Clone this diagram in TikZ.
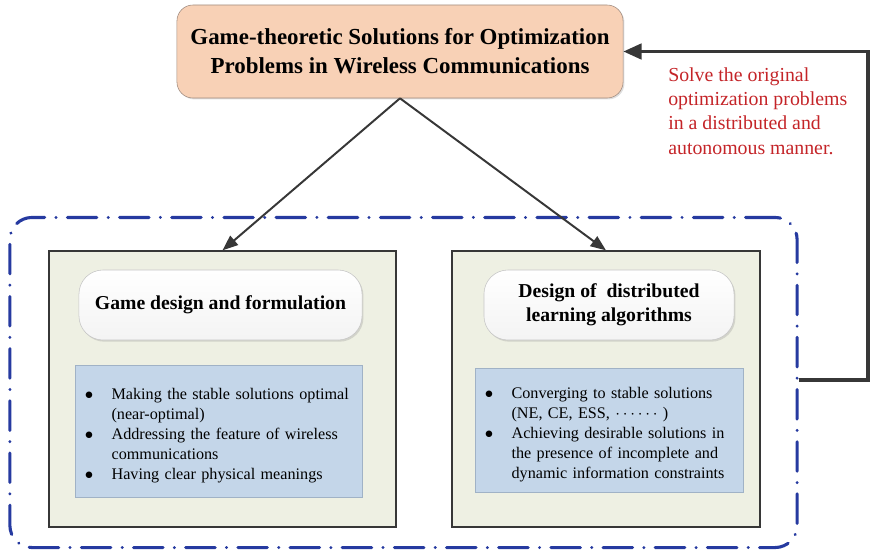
\documentclass[tikz,border=0pt]{standalone}
\usepackage{fontspec}
\setmainfont{Liberation Serif}
\usetikzlibrary{arrows.meta,shadows}

\definecolor{peach}{RGB}{248,209,182}
\definecolor{peachline}{RGB}{160,140,128}
\definecolor{sage}{RGB}{238,240,227}
\definecolor{listblue}{RGB}{196,214,233}
\definecolor{listline}{RGB}{160,178,198}
\definecolor{frameblue}{RGB}{38,58,160}
\definecolor{notered}{RGB}{196,36,40}
\definecolor{darkline}{RGB}{55,55,55}

\newcommand{\bitem}[1]{\par\noindent\llap{\makebox[17.5pt][l]{\hspace{-1.5pt}$\bullet$}}#1}

\begin{document}
\begin{tikzpicture}[x=0.025cm,y=-0.025cm]
      \tikzstyle{every node}+=[inner sep=0pt]
      \tikzstyle{topbox}=[draw=peachline, fill=peach, rounded corners=0.4cm, minimum width=11.15cm, minimum height=2.325cm, align=center, font=\fontsize{16.3}{20.6}\selectfont\bfseries, drop shadow={opacity=0.25, shadow xshift=1pt, shadow yshift=-1pt}]
      \tikzstyle{partbox}=[draw=darkline, line width=0.9pt, fill=sage, minimum height=6.9cm]
      \tikzstyle{headbox}=[draw=gray!45, top color=white, bottom color=gray!9, rounded corners=0.6cm, minimum height=1.75cm, align=center, font=\fontsize{14}{17}\selectfont\bfseries, drop shadow={opacity=0.25, shadow xshift=1pt, shadow yshift=-1.2pt}]
      \tikzstyle{listbox}=[draw=listline, fill=listblue, inner xsep=8.5pt, font=\fontsize{11.5}{14.2}\selectfont, drop shadow={opacity=0.2, shadow xshift=0.8pt, shadow yshift=-0.8pt}]
      \tikzstyle{link}=[draw=darkline, line width=1.4pt, -{Triangle[length=11pt,width=8.5pt]}]
      \tikzstyle{fback}=[draw=darkline, line width=2.4pt, -{Triangle[length=13pt,width=11pt]}]
      \useasboundingbox (0,0) rectangle (873,553);

      % dash-dot frame round the two parts
      \node (frame) [draw=frameblue, line width=2.2pt, line cap=round, rounded corners=0.55cm,
        dash pattern=on 21pt off 8pt on 0.1pt off 8pt, minimum width=19.675cm, minimum height=8.25cm] at (403.5,382.5) {};

      % top box
      \node (top) [topbox] at (400,51.5) {Game-theoretic Solutions for Optimization\\Problems in Wireless Communications};

      % left part
      \node (lbox) [partbox, minimum width=8.675cm] at (222.5,389) {};
      \node (lhead) [headbox, minimum width=7.075cm] at (220.5,305) {Game design and formulation};
      \node (llist) [listbox, minimum width=7.175cm, minimum height=3.3cm, text width=6.575cm] at (218.5,431) {%
        \leftskip=17.5pt
        \bitem{Making the stable solutions optimal\newline(near-optimal)}
        \bitem{Addressing the feature of wireless\newline communications}
        \bitem{Having clear physical meanings}\par};

      % right part
      \node (rbox) [partbox, minimum width=7.7cm] at (606,389) {};
      \node (rhead) [headbox, minimum width=6.25cm] at (609,305) {Design of\ \ distributed\\learning algorithms};
      \node (rlist) [listbox, minimum width=6.7cm, minimum height=3.1cm, text width=6.1cm] at (609,430) {%
        \leftskip=17.5pt
        \bitem{Converging to stable solutions\newline(NE, CE, ESS, $\cdots\cdots$ )}
        \bitem{Achieving desirable solutions in\newline the presence of incomplete and\newline dynamic information constraints}\par};

      % arrows
      \draw [link] (top.south) -- (lbox.north);
      \draw [link] (top.south) -- (rbox.north);
      \coordinate (turn) at (868,380);
      \draw [fback] (frame.east |- turn) -- (turn) |- (top.east);

      \node (note) [anchor=north west, align=left, text=notered, font=\fontsize{14.1}{17.4}\selectfont] at (668,67)
        {Solve the original\\optimization problems\\in a distributed and\\autonomous manner.};
    \end{tikzpicture}
\end{document}
